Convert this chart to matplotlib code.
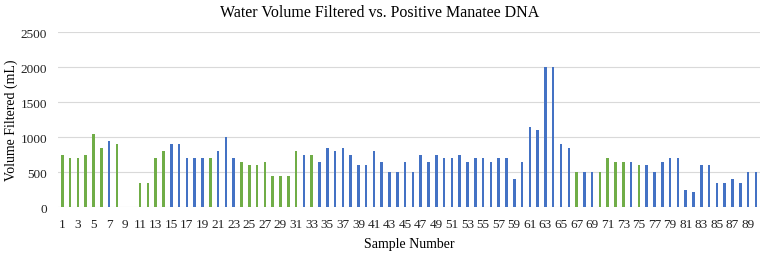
import numpy as np
import matplotlib.pyplot as plt

plt.rcParams['font.family'] = ['Liberation Serif', 'DejaVu Serif']

samples = np.arange(1, 91)
volume = [750, 700, 700, 750, 1050, 850, 950, 900, 0, 0,
          350, 350, 700, 800, 900, 900, 700, 700, 700, 700,
          800, 1000, 700, 650, 600, 600, 650, 450, 450, 450,
          800, 750, 750, 650, 850, 800, 850, 750, 600, 600,
          800, 650, 500, 500, 650, 500, 750, 650, 750, 700,
          700, 750, 650, 700, 700, 650, 700, 700, 400, 650,
          1150, 1100, 2000, 2000, 900, 850, 500, 500, 500, 500,
          700, 650, 650, 650, 600, 600, 500, 650, 700, 700,
          250, 220, 600, 600, 350, 350, 400, 350, 500, 500]
# 1 = green group, 0 = blue group
green = [1, 1, 1, 1, 1, 1, 0, 1, 0, 0,
         1, 1, 1, 1, 0, 0, 0, 0, 0, 1,
         0, 0, 0, 1, 1, 1, 1, 1, 1, 1,
         1, 0, 1, 0, 0, 0, 0, 0, 0, 0,
         0, 0, 0, 0, 0, 0, 0, 0, 0, 0,
         0, 0, 0, 0, 0, 0, 0, 0, 0, 0,
         0, 0, 0, 0, 0, 0, 1, 0, 0, 1,
         1, 1, 1, 0, 1, 0, 0, 0, 0, 0,
         0, 0, 0, 0, 0, 0, 0, 0, 0, 0]

colors = ['#70AD47' if g else '#4472C4' for g in green]

fig = plt.figure(figsize=(7.64, 2.55), dpi=100)
ax = fig.add_axes([0.0764, 0.184, 0.918, 0.686])

ax.bar(samples, volume, width=0.33, color=colors, zorder=3)

ax.set_xlim(0.5, 90.5)
ax.set_ylim(0, 2500)
ax.set_yticks(range(0, 2501, 500))
ax.set_xticks(samples[::2])
ax.tick_params(axis='both', length=0, labelsize=9.5, colors='#222222')
ax.tick_params(axis='x', pad=8)
ax.tick_params(axis='y', pad=8)
ax.grid(axis='y', color='#d9d9d9', linewidth=0.8, zorder=0)
for s in ax.spines.values():
    s.set_visible(False)

fig.text(0.497, 0.948, 'Water Volume Filtered vs. Positive Manatee DNA',
         fontsize=11.5, ha='center', va='center')
ax.set_xlabel('Sample Number', fontsize=10, labelpad=5)
ax.set_ylabel('Volume Filtered (mL)', fontsize=10, labelpad=2)

fig.savefig('out.png', dpi=100)
